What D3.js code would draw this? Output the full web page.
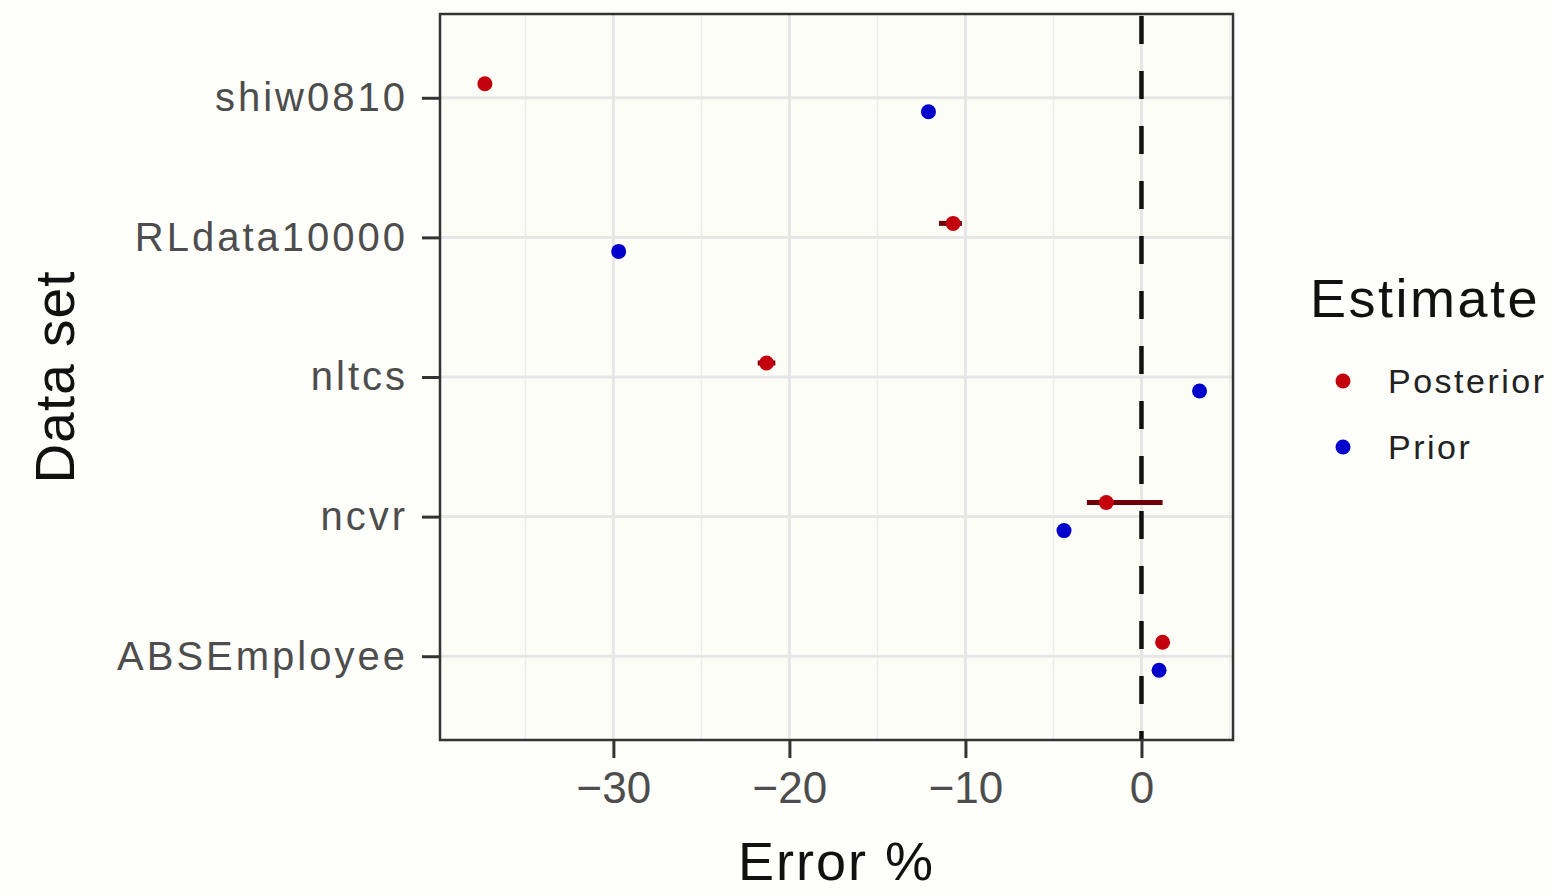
<!DOCTYPE html>
<html>
<head>
<meta charset="utf-8">
<script src="https://cdn.jsdelivr.net/npm/d3@7"></script>
<style>
  body { margin: 0; background: #fefefa; }
  svg { display: block; font-family: "Liberation Sans", Arial, Helvetica, sans-serif; }
</style>
</head>
<body>
<svg id="chart" width="1553" height="894"></svg>
<script>
// data
var datasets = ["shiw0810", "RLdata10000", "nltcs", "ncvr", "ABSEmployee"];
var posterior = [-37.3, -10.7, -21.3, -2.0, 1.2];
var posteriorLo = [-37.5, -11.5, -21.8, -3.1, 1.0];
var posteriorHi = [-37.1, -10.2, -20.8, 1.2, 1.4];
var prior = [-12.1, -29.7, 3.3, -4.4, 1.0];
var xTicks = [-30, -20, -10, 0];
var xMinor = [-35, -25, -15, -5, 5];
var seriesNames = ["Posterior", "Prior"];

var margin = { top: 14, left: 440, right: 320, bottom: 154 },
    width = 1553 - margin.left - margin.right,
    height = 894 - margin.top - margin.bottom;

var colors = d3.scaleOrdinal()
    .domain(seriesNames)
    .range(["#c4000f", "#0000cc"]);

var svg = d3.select("#chart");
var chartArea = svg.append("g")
    .attr("transform", "translate(" + margin.left + "," + margin.top + ")");

var x = d3.scaleLinear().domain([-39.85, 5.2]).range([0, width]);
var y = d3.scalePoint().domain(datasets).range([0, height]).padding(0.6);
var dodge = 14;

chartArea.append("rect")
    .attr("width", width).attr("height", height)
    .attr("fill", "#fdfdf8");

// gridlines
chartArea.append("g").selectAll("line")
    .data(xMinor.filter(function(d) { return x(d) < width; }))
    .join("line")
    .attr("x1", function(d) { return x(d); }).attr("x2", function(d) { return x(d); })
    .attr("y1", 0).attr("y2", height)
    .attr("stroke", "#ececec").attr("stroke-width", 1.5);

chartArea.append("g").selectAll("line")
    .data(xTicks)
    .join("line")
    .attr("x1", function(d) { return x(d); }).attr("x2", function(d) { return x(d); })
    .attr("y1", 0).attr("y2", height)
    .attr("stroke", "#e6e6e6").attr("stroke-width", 3);

chartArea.append("g").selectAll("line")
    .data(datasets)
    .join("line")
    .attr("x1", 0).attr("x2", width)
    .attr("y1", function(d) { return y(d); }).attr("y2", function(d) { return y(d); })
    .attr("stroke", "#e6e6e6").attr("stroke-width", 3);

// zero reference line
chartArea.append("line")
    .attr("x1", x(0)).attr("x2", x(0))
    .attr("y1", 0).attr("y2", height)
    .attr("stroke", "#111").attr("stroke-width", 4.5)
    .attr("stroke-dasharray", "28,27")
    .attr("stroke-dashoffset", -2);

// posterior error bars
chartArea.append("g").selectAll("line")
    .data(datasets)
    .join("line")
    .attr("x1", function(d, i) { return x(posteriorLo[i]); })
    .attr("x2", function(d, i) { return x(posteriorHi[i]); })
    .attr("y1", function(d) { return y(d) - dodge; })
    .attr("y2", function(d) { return y(d) - dodge; })
    .attr("stroke", "#6e0008").attr("stroke-width", 5);

// points
chartArea.append("g").selectAll("circle")
    .data(datasets)
    .join("circle")
    .attr("cx", function(d, i) { return x(posterior[i]); })
    .attr("cy", function(d) { return y(d) - dodge; })
    .attr("r", 7.5)
    .attr("fill", colors("Posterior"));

chartArea.append("g").selectAll("circle")
    .data(datasets)
    .join("circle")
    .attr("cx", function(d, i) { return x(prior[i]); })
    .attr("cy", function(d) { return y(d) + dodge; })
    .attr("r", 7.5)
    .attr("fill", colors("Prior"));

// panel border
chartArea.append("rect")
    .attr("width", width).attr("height", height)
    .attr("fill", "none").attr("stroke", "#333").attr("stroke-width", 2.5);

// axes
var xAxis = chartArea.append("g")
    .attr("transform", "translate(0," + height + ")")
    .call(d3.axisBottom(x).tickValues(xTicks).tickSize(18).tickPadding(14)
        .tickFormat(function(d) { return d < 0 ? "\u2212" + Math.abs(d) : d; }));
var yAxis = chartArea.append("g")
    .call(d3.axisLeft(y).tickSize(18).tickPadding(14));

[xAxis, yAxis].forEach(function(a) {
    a.select(".domain").remove();
    a.selectAll(".tick line").attr("stroke", "#333").attr("stroke-width", 3);
    a.selectAll(".tick text").attr("fill", "#4d4d4d")
        .attr("font-family", "Liberation Sans, Arial, sans-serif");
});
xAxis.selectAll(".tick text").attr("font-size", 44).attr("dy", "0.71em");
yAxis.selectAll(".tick text").attr("font-size", 40)
    .attr("letter-spacing", 3).attr("x", -32);

// axis titles
svg.append("text")
    .attr("x", margin.left + width / 2).attr("y", 880)
    .attr("text-anchor", "middle").attr("font-size", 54).attr("fill", "#111")
    .attr("letter-spacing", 2)
    .text("Error %");
svg.append("text")
    .attr("transform", "translate(74," + (margin.top + height / 2) + ") rotate(-90)")
    .attr("text-anchor", "middle").attr("font-size", 55).attr("fill", "#111")
    .attr("letter-spacing", 1)
    .text("Data set");

// legend
var legend = svg.append("g").attr("transform", "translate(1310,0)");
legend.append("text")
    .attr("x", 0).attr("y", 317)
    .attr("font-size", 54).attr("fill", "#111")
    .attr("letter-spacing", 2.5)
    .text("Estimate");
seriesNames.forEach(function(s, i) {
    var g = legend.append("g").attr("transform", "translate(0," + (381 + i * 66) + ")");
    g.append("circle").attr("cx", 33).attr("cy", 0).attr("r", 7.5).attr("fill", colors(s));
    g.append("text").attr("x", 78).attr("y", 0)
        .attr("dominant-baseline", "central")
        .attr("font-size", 34).attr("fill", "#222")
        .attr("letter-spacing", 2.5)
        .text(s);
});
</script>
</body>
</html>
